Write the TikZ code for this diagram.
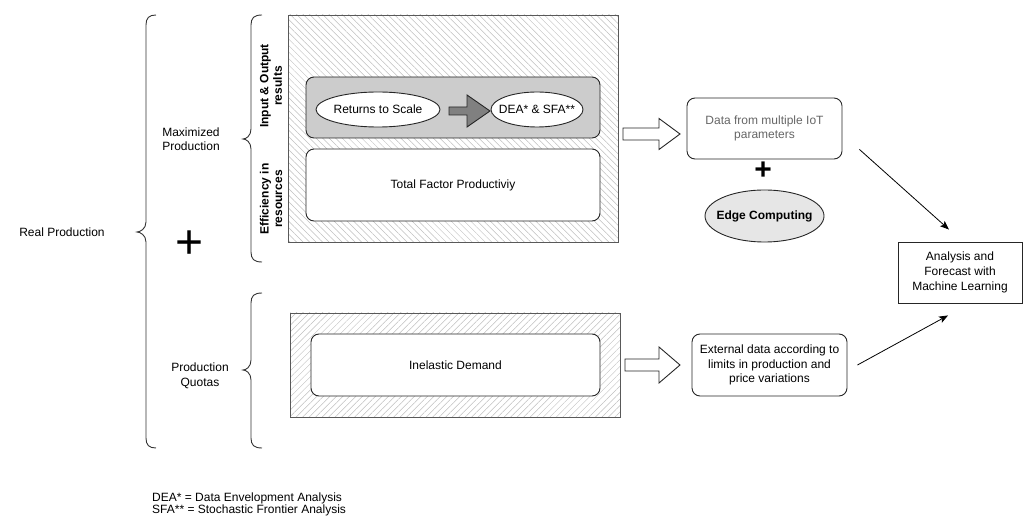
\documentclass[tikz,border=0pt]{standalone}
\usepackage{fontspec}
\setmainfont{Liberation Sans}
\usetikzlibrary{shapes.geometric,arrows.meta,patterns.meta,calc}

\definecolor{boxgray}{HTML}{CCCCCC}
\definecolor{edgegray}{HTML}{E6E6E6}
\definecolor{arrowgray}{HTML}{808080}

\tikzset{
	txt/.style={font=\fontsize{12}{14.5}\selectfont,align=center,inner sep=0pt},
	side/.style={txt,font=\bfseries\fontsize{12}{13.5}\selectfont,rotate=90},
	hatchbox/.style={draw=black!65,line width=0.9pt,inner sep=0pt},
	roundbox/.style={txt,draw=black!85,line width=0.9pt,rounded corners=8pt,fill=white},
	oval/.style={txt,ellipse,draw=black!85,line width=0.9pt,fill=white},
	brline/.style={draw=black!80,line width=0.9pt},
	thinarrow/.style={draw=black,line width=0.8pt,-{Stealth[length=9pt,width=7pt,inset=2pt]}},
	blockline/.style={draw=black!85,line width=0.9pt}
}

% x of line, x of tip, x of ends, top, tip, bottom
\newcommand{\curlybr}[6]{%
	\draw[brline] (#3,#4) .. controls ({#1+3},#4) and (#1,{#4+3}) .. (#1,{#4+10})
		-- (#1,{#5-10}) .. controls (#1,{#5-3}) and ({#2+3},#5) .. (#2,#5)
		.. controls ({#2+3},#5) and (#1,{#5+3}) .. (#1,{#5+10})
		-- (#1,{#6-10}) .. controls (#1,{#6-3}) and ({#1+3},#6) .. (#3,#6);}

% style, start, length, half body, half head, head length
\newcommand{\blockarrow}[6]{%
	\draw[#1] (#2) ++(0,-#4) -- ++({#3-#6},0) -- ++(0,{#4-#5}) -- ++(#6,#5)
		-- ++(-#6,#5) -- ++(0,{#4-#5}) -- ++({#6-#3},0) -- cycle;}

\begin{document}
\begin{tikzpicture}[x=1pt,y=-1pt]
	\useasboundingbox (0,0) rectangle (1025,518);

	\node[txt] (real) at (62,232) {Real Production};
	\node[txt] (maxprod) at (191,139) {Maximized\\Production};
	\node[txt] (quotas) at (200,376) {Production\\Quotas};
	\node[txt,font=\fontsize{48}{48}\selectfont] (plusA) at (190,245) {+};

	\curlybr{146}{137}{156}{15}{232}{448}
	\curlybr{251}{243}{262}{15}{139}{262}
	\curlybr{251}{243}{262}{293}{370}{448}

	\node[side] (iolbl) at (271,86) {Input \& Output\\results};
	\node[side] (efflbl) at (271,199) {Efficiency in\\resources};

	% hatched frames
	\node[hatchbox,minimum width=330,minimum height=227,
		pattern={Lines[angle=-45,distance=4.6pt,line width=0.5pt]},pattern color=black!25] (maxbox) at (453,128.5) {};
	\node[hatchbox,minimum width=330,minimum height=104,
		pattern={Lines[angle=45,distance=4.6pt,line width=0.5pt]},pattern color=black!25] (quotabox) at (455,365) {};

	\node[roundbox,fill=boxgray,minimum width=294,minimum height=61] (iobox) at (453,107.5) {};
	\node[oval,minimum width=124,minimum height=35] (rts) at (378,109.5) {\makebox[0pt]{Returns to Scale}};
	\node[oval,minimum width=92,minimum height=35] (dea) at (537,109.5) {\makebox[0pt]{DEA* \& SFA**}};
	\coordinate (ga) at (449,111);
	\blockarrow{blockline,fill=arrowgray}{ga}{41}{4}{16}{23}

	\node[roundbox,minimum width=294,minimum height=72] (tfp) at (453,185) {Total Factor Productiviy};
	\node[roundbox,minimum width=289,minimum height=62] (inel) at (455.5,365) {Inelastic Demand};

	\coordinate (wa) at (623,134);
	\coordinate (wb) at (625,365);
	\blockarrow{blockline,fill=white}{wa}{57}{6}{15.5}{21}
	\blockarrow{blockline,fill=white}{wb}{55}{6}{18}{21}

	\node[roundbox,text=black!60,minimum width=155,minimum height=61] (iot) at (764.5,128.5) {Data from multiple IoT\\parameters};
	\node[txt,font=\bfseries\fontsize{30}{30}\selectfont] (plusB) at (763,171) {+};
	\node[oval,fill=edgegray,minimum width=119,minimum height=52] (edge) at (764.5,216) {\makebox[0pt]{\bfseries Edge Computing}};
	\node[roundbox,minimum width=155,minimum height=62] (ext) at (769.5,365) {External data according to\\limits in production and\\price variations};
	\node[txt,draw=black!85,line width=0.9pt,minimum width=124,minimum height=61,
		font=\fontsize{12}{15}\selectfont] (ml) at (960,272.5) {Analysis and\\Forecast with\\Machine Learning};

	\draw[thinarrow] ($(iot.south east)+(17,-10)$) -- ($(ml.north)+(-11,-12)$);
	\draw[thinarrow] ($(ext.east)+(10,0)$) -- ($(ml.south)+(-12,12)$);

	\node[txt,anchor=west,align=left,font=\fontsize{12}{10.5}\selectfont] (note) at (152,504) {DEA* = Data Envelopment Analysis\\SFA** = Stochastic Frontier Analysis};
\end{tikzpicture}
\end{document}
